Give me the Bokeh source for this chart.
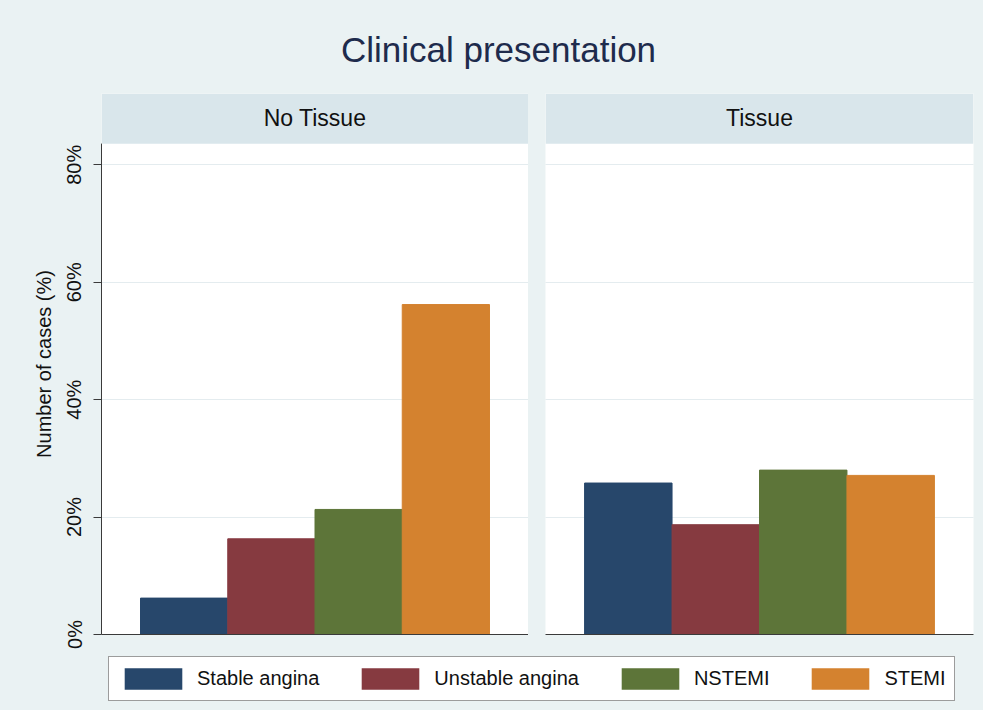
from bokeh.plotting import figure
from bokeh.models import (ColumnDataSource, FactorRange, Range1d, FixedTicker, BoxAnnotation,
                          Label, Legend, LegendItem, Grid)
from bokeh.layouts import column, row
from bokeh.embed import file_html
from bokeh.resources import INLINE

# ---------------- data ----------------
title_text = "Clinical presentation"
panel_names = ["No Tissue", "Tissue"]
categories = ["Stable angina", "Unstable angina", "NSTEMI", "STEMI"]
no_tissue = [6.2, 16.3, 21.3, 56.2]
tissue = [25.8, 18.7, 28.0, 27.1]
y_ticks = [0, 20, 40, 60, 80]
y_tick_labels = ["0%", "20%", "40%", "60%", "80%"]
y_label = "Number of cases (%)"

# ---------------- styles ----------------
colors = ["#27476b", "#863a40", "#5d7539", "#d4822f"]
BG = "#eaf2f3"
STRIP = "#d9e6eb"
FONT = "Liberation Sans"
TXT = "#111111"
AXC = "#3a3a3a"
GRID = "#e4ecef"

Y_TOP = 92.15
STRIP_BOTTOM = 83.58
HEADER_Y = 87.9


def panel(name, values, show_y, width, border_left, border_right):
    p = figure(width=width, height=557, output_backend="svg", toolbar_location=None,
               x_range=FactorRange(factors=categories, range_padding=0.447,
                                   range_padding_units="absolute"),
               y_range=Range1d(0, Y_TOP),
               y_axis_location="left" if show_y else None,
               min_border_left=border_left, min_border_right=border_right,
               min_border_top=0, min_border_bottom=16)
    p.background_fill_color = "white"
    p.border_fill_color = BG
    p.outline_line_color = None

    src = ColumnDataSource(dict(cat=categories, val=values, color=colors))
    p.vbar(x="cat", top="val", width=1, source=src, fill_color="color", line_color="color")

    # x axis: line only
    p.xaxis.ticker = FixedTicker(ticks=[])
    p.xaxis.major_tick_line_color = None
    p.xaxis.minor_tick_line_color = None
    p.xaxis.major_tick_out = 0
    p.xaxis.major_label_standoff = 0
    p.xaxis.axis_line_color = AXC
    p.xgrid.visible = False

    if show_y:
        ax = p.yaxis[0]
        ax.ticker = FixedTicker(ticks=y_ticks)
        ax.major_label_overrides = dict(zip(y_ticks, y_tick_labels))
        ax.bounds = (0, STRIP_BOTTOM)
        ax.major_label_orientation = "vertical"
        ax.major_tick_out = 8
        ax.major_tick_in = 0
        ax.minor_tick_line_color = None
        ax.major_label_standoff = 8
        ax.major_label_text_font = FONT
        ax.major_label_text_font_size = "20px"
        ax.major_label_text_color = TXT
        ax.axis_line_color = AXC
        ax.major_tick_line_color = AXC
        ax.axis_label = y_label
        ax.axis_label_text_font = FONT
        ax.axis_label_text_font_size = "20px"
        ax.axis_label_text_font_style = "normal"
        ax.axis_label_text_color = TXT
        ax.axis_label_standoff = 6
        p.ygrid.ticker = FixedTicker(ticks=y_ticks)
        p.ygrid.grid_line_color = GRID
    else:
        p.add_layout(Grid(dimension=1, ticker=FixedTicker(ticks=y_ticks),
                          grid_line_color=GRID))

    p.add_layout(BoxAnnotation(bottom=STRIP_BOTTOM, fill_color=STRIP, fill_alpha=1,
                               line_color=None))
    p.add_layout(Label(x=2.0, y=HEADER_Y, text=name, text_align="center",
                       text_baseline="alphabetic", text_font=FONT,
                       text_font_size="23px", text_color=TXT))
    return p


left = panel(panel_names[0], no_tissue, True, 528, 101, 0)
right = panel(panel_names[1], tissue, False, 455, 17, 10)

# title
tfig = figure(width=983, height=93, output_backend="svg", toolbar_location=None,
              x_range=Range1d(0, 1), y_range=Range1d(0, 1),
              x_axis_location=None, y_axis_location=None, min_border=0)
tfig.background_fill_color = BG
tfig.border_fill_color = BG
tfig.outline_line_color = None
tfig.grid.visible = False
tfig.add_layout(Label(x=498, y=44, x_units="screen", y_units="screen", text=title_text,
                      text_align="center", text_baseline="alphabetic", text_font=FONT,
                      text_font_size="35px", text_color="#1e2b4c"))

# legend
lfig = figure(width=983, height=60, output_backend="svg", toolbar_location=None,
              x_range=Range1d(0, 1), y_range=Range1d(0, 1),
              x_axis_location=None, y_axis_location=None, min_border=0)
lfig.background_fill_color = BG
lfig.border_fill_color = BG
lfig.outline_line_color = None
lfig.grid.visible = False
items = []
for cat, c in zip(categories, colors):
    # zero-size proxy renderer, only used for the legend swatch
    r = lfig.vbar(x=[0], top=[0], width=0, fill_color=c, line_color=None)
    items.append(LegendItem(label=cat, renderers=[r]))
legend = Legend(items=items, orientation="horizontal", location=(108, 9), margin=0,
                glyph_width=72, glyph_height=27, padding=8, label_standoff=8, spacing=35,
                border_line_color=AXC, border_line_width=1, background_fill_color="white",
                background_fill_alpha=1, label_text_font=FONT, label_text_font_size="20px",
                label_text_color=TXT)
lfig.add_layout(legend, "center")

p = column(tfig, row(left, right, styles={"background-color": BG}), lfig,
           styles={"background-color": BG})
open("out.html", "w").write(file_html(p, INLINE))
